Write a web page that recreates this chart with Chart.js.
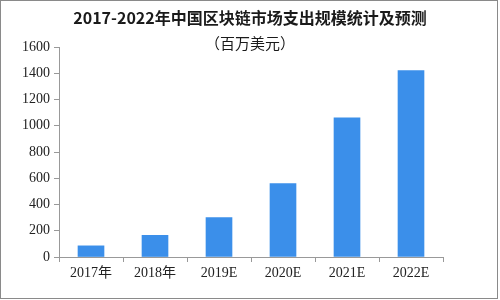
<!DOCTYPE html>
<html>
<head>
<meta charset="utf-8">
<script src="https://cdn.jsdelivr.net/npm/chart.js@4"></script>
<style>
  html, body { margin: 0; padding: 0; background: #fff; }
  #wrap { position: relative; width: 500px; height: 300px; }
  #frame { position: absolute; left: 0; top: 0; width: 496px; height: 297px; border: 1px solid #8a8a8a; pointer-events: none; }
  canvas { position: absolute; left: 0; top: 0; }
</style>
</head>
<body>
<div id="wrap">
  <canvas id="c" width="500" height="300"></canvas>
  <div id="frame"></div>
</div>
<script>
const titleText = "2017-2022年中国区块链市场支出规模统计及预测";
const subtitleText = "（百万美元）";
const categories = ["2017年", "2018年", "2019E", "2020E", "2021E", "2022E"];
const spending = [85, 165, 300, 560, 1060, 1420];
const yMax = 1600;
const yStep = 200;

const labelFont = { family: "'Liberation Serif', 'Noto Sans CJK SC', serif", size: 14 };

const titlePlugin = {
  id: 'titles',
  afterDraw(chart) {
    const ctx = chart.ctx;
    ctx.save();
    ctx.fillStyle = '#1a1a1a';
    ctx.textAlign = 'center';
    ctx.textBaseline = 'middle';
    ctx.font = "bold 16px 'Noto Sans CJK SC', 'Liberation Serif', sans-serif";
    ctx.fillText(titleText, 250, 18);
    ctx.font = "15px 'Noto Sans CJK SC', 'Liberation Serif', sans-serif";
    ctx.fillText(subtitleText, 250, 43);
    ctx.restore();
  }
};

new Chart(document.getElementById('c'), {
  type: 'bar',
  data: {
    labels: categories,
    datasets: [{
      data: spending,
      backgroundColor: '#3b8fea',
      borderWidth: 0,
      barThickness: 26
    }]
  },
  options: {
    responsive: false,
    animation: false,
    layout: { padding: { top: 47, right: 57, left: 0, bottom: 0 } },
    plugins: { legend: { display: false }, tooltip: { enabled: false }, title: { display: false } },
    scales: {
      x: {
        offset: true,
        grid: { offset: true, drawOnChartArea: false, drawTicks: true, tickLength: 5, color: '#999' },
        border: { display: true, color: '#999', width: 1 },
        ticks: { color: '#222', font: labelFont, padding: 3, maxRotation: 0 },
        afterFit(scale) { scale.height = 43; }
      },
      y: {
        min: 0,
        max: yMax,
        ticks: { stepSize: yStep, color: '#222', font: labelFont, padding: 4, callback: (v) => String(v) },
        grid: { drawOnChartArea: false, drawTicks: true, tickLength: 5, color: '#999' },
        border: { display: true, color: '#999', width: 1 },
        afterFit(scale) { scale.width = 59; }
      }
    }
  },
  plugins: [titlePlugin]
});
</script>
</body>
</html>
